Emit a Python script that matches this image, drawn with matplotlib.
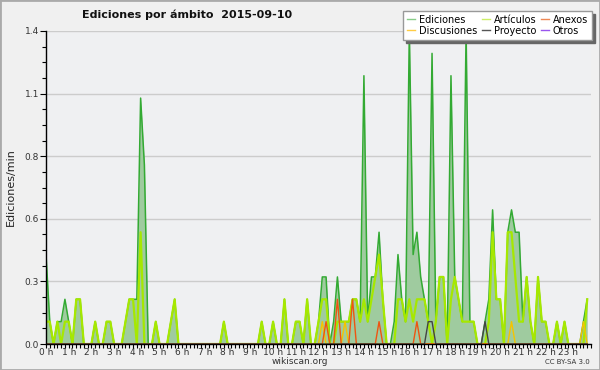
import numpy as np
import matplotlib
matplotlib.use("Agg")
import matplotlib.pyplot as plt
from matplotlib.patches import Rectangle
from matplotlib.ticker import FixedLocator, MultipleLocator

# valeurs en dixièmes d'édition/min, une case = 10 minutes (144 cases)
ediciones = [4, 1, 0, 1, 1, 2, 1, 0, 2, 2, 0, 0, 0, 1, 0, 0, 1, 1, 0, 0,
             0, 1, 2, 2, 2, 11, 8, 0, 0, 1, 0, 0, 0, 1, 2, 0, 0, 0, 0, 0,
             0, 0, 0, 0, 0, 0, 0, 1, 0, 0, 0, 0, 0, 0, 0, 0, 0, 1, 0, 0,
             1, 0, 0, 2, 0, 0, 1, 1, 0, 2, 0, 0, 1, 3, 3, 0, 1, 3, 1, 1,
             1, 2, 2, 1, 12, 1, 3, 3, 5, 2, 0, 0, 1, 4, 2, 1, 14, 4, 5, 3,
             2, 1, 13, 1, 3, 3, 0, 12, 3, 2, 1, 14, 1, 1, 0, 0, 1, 2, 6, 2,
             2, 0, 5, 6, 5, 5, 1, 3, 1, 0, 3, 1, 1, 0, 0, 1, 0, 1, 0, 0,
             0, 0, 1, 2]
articulos = [1, 1, 0, 1, 0, 1, 1, 0, 2, 2, 0, 0, 0, 1, 0, 0, 1, 1, 0, 0,
             0, 1, 2, 2, 0, 5, 0, 0, 0, 1, 0, 0, 0, 1, 2, 0, 0, 0, 0, 0,
             0, 0, 0, 0, 0, 0, 0, 1, 0, 0, 0, 0, 0, 0, 0, 0, 0, 1, 0, 0,
             1, 0, 0, 2, 0, 0, 1, 1, 0, 2, 0, 0, 1, 2, 2, 0, 0, 1, 1, 1,
             1, 2, 2, 1, 2, 1, 2, 3, 4, 2, 0, 0, 0, 2, 2, 1, 2, 1, 2, 2,
             2, 1, 0, 1, 3, 3, 0, 2, 3, 2, 1, 1, 1, 1, 0, 0, 0, 1, 5, 2,
             2, 0, 5, 5, 3, 1, 1, 3, 1, 0, 3, 1, 1, 0, 0, 1, 0, 1, 0, 0,
             0, 0, 0, 2]
anexos = {74: 1, 77: 2, 81: 2, 88: 1, 98: 1}
discusiones = {73: 1, 79: 1, 123: 1, 142: 1}
proyecto = {101: 1, 102: 1, 116: 1}
otros = {}

hour_labels = [f"{h} h" for h in range(24)]


def serie(d):
    v = np.zeros(144)
    for k, val in d.items():
        v[k] = val
    return v / 10


t = np.arange(144) / 6
ed = np.array(ediciones) / 10
art = np.array(articulos) / 10

fig = plt.figure(figsize=(6, 3.7), dpi=100, facecolor="#f0f0f0")
ax = fig.add_axes([46/600, 26/370, 545/600, 313/370])
ax.set_facecolor("#eff0f2")

ax.fill_between(t, 0, ed, color="#9fcb9f", lw=0, zorder=2)
ax.plot(t, ed, color="#33aa33", lw=1.1, zorder=3)
ax.plot(t, art, color="#a6e800", lw=1.6, zorder=4)
ax.plot(t, serie(discusiones), color="#f5c400", lw=1, zorder=5)
ax.plot(t, serie(anexos), color="#ee5511", lw=1, zorder=5)
ax.plot(t, serie(proyecto), color="#444444", lw=1, zorder=5)

ax.set_xlim(0, 24)
ax.set_ylim(0, 1.4)
yt = np.linspace(0, 1.4, 6)
ax.yaxis.set_major_locator(FixedLocator(yt))
ax.set_yticklabels([f"{v:.1f}" for v in yt])
ax.yaxis.set_minor_locator(MultipleLocator(0.07))
ax.set_xticks(range(24))
ax.set_xticklabels(hour_labels)
ax.xaxis.set_minor_locator(MultipleLocator(1/6))
ax.tick_params(axis="both", which="both", direction="out", color="black",
               width=0.8, labelsize=6.5, labelcolor="#333333", pad=1)
ax.tick_params(axis="x", which="major", pad=0)
ax.tick_params(axis="y", which="major", length=4)
ax.tick_params(axis="y", which="minor", length=3)
ax.tick_params(axis="x", which="both", length=3)
ax.grid(axis="y", color="#cccccc", lw=1, zorder=1)
ax.set_axisbelow(True)
for s in ["top", "right"]:
    ax.spines[s].set_visible(False)
for s in ["left", "bottom"]:
    ax.spines[s].set_linewidth(1)
    ax.spines[s].set_zorder(6)

ax.set_ylabel("Ediciones/min", fontsize=8, color="#222222", labelpad=6)

fig.text(187/600, 1-15/370, "Ediciones por ámbito  2015-09-10", fontsize=8,
         fontweight="bold", ha="center", va="center", color="#111111")
fig.text(300/600, 1-362/370, "wikiscan.org", fontsize=6.5, ha="center",
         va="center", color="#333333")
fig.text(590/600, 1-362/370, "CC BY-SA 3.0", fontsize=5, ha="right",
         va="center", color="#333333")

noms = ["Ediciones", "Discusiones", "Artículos", "Proyecto", "Anexos", "Otros"]
couleurs = ["#88cc88", "#ffcc44", "#ccee66", "#555555", "#ee8855", "#9955ee"]
handles = [plt.Line2D([], [], color=c, lw=1) for c in couleurs]
fig.legend(handles, noms, ncol=3, loc="upper right",
           bbox_to_anchor=(592/600, 1-11/370), fontsize=7, frameon=True,
           fancybox=False, edgecolor="#999999", facecolor="white",
           framealpha=1, shadow={"color": "#666666", "alpha": 1},
           handlelength=0.8, handletextpad=0.4, columnspacing=0.5,
           labelspacing=0.1, borderpad=0.4, borderaxespad=0)

fig.patches.append(Rectangle((0, 0), 1, 1, transform=fig.transFigure,
                             fill=False, edgecolor="#aaaaaa", lw=2))

fig.savefig("out.png", dpi=100, facecolor=fig.get_facecolor())
